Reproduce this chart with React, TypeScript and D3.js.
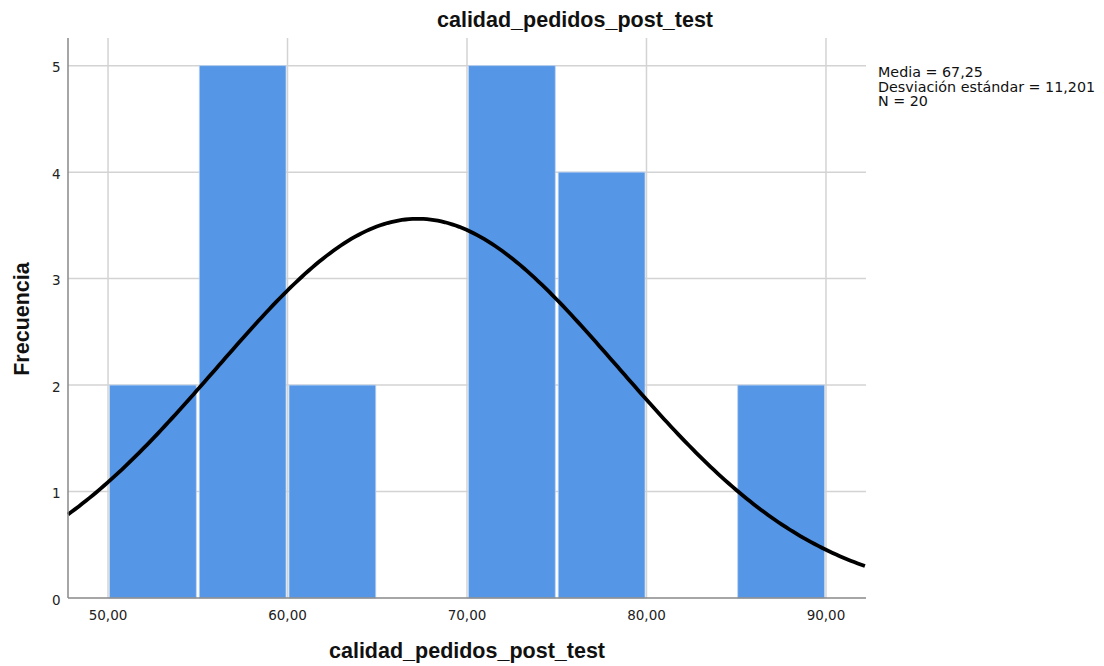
import React, { useRef, useEffect } from "react";
import * as d3 from "d3";

// histogram bins (lower edge) and counts
const binStarts = [50, 55, 60, 65, 70, 75, 80, 85];
const counts = [2, 5, 2, 0, 5, 4, 0, 2];
const binWidth = 5;
const xTicks = [50, 60, 70, 80, 90];
const yTicks = [0, 1, 2, 3, 4, 5];
const mean = 67.25;
const sd = 11.201;
const n = 20;
const stats = ["Media = 67,25", "Desviación estándar = 11,201", "N = 20"];

export default function App() {
  const svgRef = useRef<SVGSVGElement>(null);

  useEffect(() => {
    const w = 1104;
    const h = 666;
    const m = { left: 68, right: 866, top: 38, bottom: 598 };
    const svg = d3.select(svgRef.current).attr("width", w).attr("height", h);
    svg.selectAll("*").remove();

    const x = d3.scaleLinear().domain([47.77, 92.23]).range([m.left, m.right]);
    const y = d3.scaleLinear().domain([0, 5.26]).range([m.bottom, m.top]);

    // grid
    svg
      .append("g")
      .selectAll("line")
      .data(yTicks.slice(1))
      .enter()
      .append("line")
      .attr("x1", m.left)
      .attr("x2", m.right)
      .attr("y1", (d) => y(d))
      .attr("y2", (d) => y(d))
      .attr("stroke", "#d3d3d3")
      .attr("stroke-width", 1.5);
    svg
      .append("g")
      .selectAll("line")
      .data(xTicks)
      .enter()
      .append("line")
      .attr("x1", (d) => x(d))
      .attr("x2", (d) => x(d))
      .attr("y1", m.top)
      .attr("y2", m.bottom)
      .attr("stroke", "#d3d3d3")
      .attr("stroke-width", 1.5);

    // bars
    svg
      .append("g")
      .selectAll("rect")
      .data(binStarts.map((s, i) => ({ s, c: counts[i] })).filter((d) => d.c > 0))
      .enter()
      .append("rect")
      .attr("x", (d) => x(d.s) + 1.5)
      .attr("width", (d) => x(d.s + binWidth) - x(d.s) - 3)
      .attr("y", (d) => y(d.c))
      .attr("height", (d) => y(0) - y(d.c))
      .attr("fill", "#5596e6")
      .attr("stroke", "#b8d2f2")
      .attr("stroke-width", 0.8);

    // normal curve
    const pdf = (v: number) =>
      ((n * binWidth) / (sd * Math.sqrt(2 * Math.PI))) *
      Math.exp(-((v - mean) ** 2) / (2 * sd * sd));
    const pts = d3.range(47.77, 92.24, 0.2);
    svg
      .append("path")
      .datum(pts)
      .attr(
        "d",
        d3
          .line<number>()
          .x((d) => x(d))
          .y((d) => y(pdf(d)))
      )
      .attr("fill", "none")
      .attr("stroke", "#000")
      .attr("stroke-width", 3.8);

    // axes
    svg
      .append("line")
      .attr("x1", m.left)
      .attr("x2", m.left)
      .attr("y1", m.top)
      .attr("y2", m.bottom)
      .attr("stroke", "#888")
      .attr("stroke-width", 1.5);
    svg
      .append("line")
      .attr("x1", m.left)
      .attr("x2", m.right)
      .attr("y1", m.bottom)
      .attr("y2", m.bottom)
      .attr("stroke", "#888")
      .attr("stroke-width", 1.5);

    const font = "'DejaVu Sans', Verdana, sans-serif";
    const bold = "'Liberation Sans', Arial, sans-serif";
    svg
      .append("g")
      .selectAll("text")
      .data(yTicks)
      .enter()
      .append("text")
      .attr("x", 60.5)
      .attr("y", (d) => y(d) + 6.5)
      .attr("text-anchor", "end")
      .attr("font-family", font)
      .attr("font-size", 13.5)
      .attr("fill", "#222")
      .text((d) => d);
    svg
      .append("g")
      .selectAll("text")
      .data(xTicks)
      .enter()
      .append("text")
      .attr("x", (d) => x(d))
      .attr("y", 620)
      .attr("text-anchor", "middle")
      .attr("font-family", font)
      .attr("font-size", 13.5)
      .attr("fill", "#222")
      .text((d) => d.toFixed(2).replace(".", ","));

    // titles
    svg
      .append("text")
      .attr("x", 575)
      .attr("y", 27)
      .attr("text-anchor", "middle")
      .attr("font-family", bold)
      .attr("font-weight", "bold")
      .attr("font-size", 21.5)
      .attr("fill", "#111")
      .text("calidad_pedidos_post_test");
    svg
      .append("text")
      .attr("x", 467)
      .attr("y", 658)
      .attr("text-anchor", "middle")
      .attr("font-family", bold)
      .attr("font-weight", "bold")
      .attr("font-size", 21.5)
      .attr("fill", "#111")
      .text("calidad_pedidos_post_test");
    svg
      .append("text")
      .attr("transform", `translate(29, ${319}) rotate(-90)`)
      .attr("text-anchor", "middle")
      .attr("font-family", bold)
      .attr("font-weight", "bold")
      .attr("font-size", 21.5)
      .attr("fill", "#111")
      .text("Frecuencia");

    // stats
    svg
      .append("g")
      .selectAll("text")
      .data(stats)
      .enter()
      .append("text")
      .attr("x", 878)
      .attr("y", (d, i) => 77 + i * 14.5)
      .attr("font-family", font)
      .attr("font-size", 14.3)
      .attr("fill", "#111")
      .text((d) => d);
  }, []);

  return (
    <div style={{ position: "absolute", left: 0, top: 0 }}>
      <svg ref={svgRef}></svg>
    </div>
  );
}
